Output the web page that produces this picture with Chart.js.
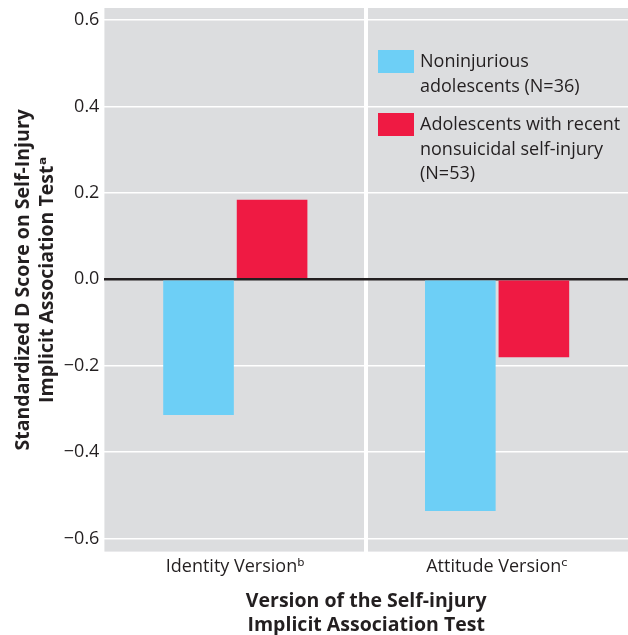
<!DOCTYPE html>
<html>
<head>
<meta charset="utf-8">
<script src="https://cdn.jsdelivr.net/npm/chart.js@4"></script>
<style>
  body { margin: 0; background: #fff; }
</style>
</head>
<body>
<canvas id="myChart" width="628" height="635"></canvas>
<script>
var categories = ['Identity Version\u1D47', 'Attitude Version\u1D9C'];
var seriesNames = [
  ['Noninjurious', 'adolescents (N=36)'],
  ['Adolescents with recent', 'nonsuicidal self-injury', '(N=53)']
];
var noninjurious = [-0.314, -0.536];
var selfInjury = [0.184, -0.180];
var tickValues = [-0.6, -0.4, -0.2, 0.0, 0.2, 0.4, 0.6];
var tickLabels = ['\u22120.6', '\u22120.4', '\u22120.2', '0.0', '0.2', '0.4', '0.6'];
var colors = ['#6dcff6', '#ef1a43'];

var fontFamily = '"Open Sans", "DejaVu Sans", sans-serif';
var textColor = '#231f20';

var panelBackground = {
  id: 'panelBackground',
  beforeDraw: function (chart) {
    var a = chart.chartArea;
    var ctx = chart.ctx;
    ctx.save();
    ctx.fillStyle = '#dcdddf';
    ctx.fillRect(a.left, a.top, a.right - a.left, a.bottom - a.top);
    ctx.restore();
  }
};

var insideLegend = {
  id: 'insideLegend',
  afterDatasetsDraw: function (chart) {
    var a = chart.chartArea;
    var ctx = chart.ctx;
    var left = a.right - 250;
    var top = a.top + 42;
    ctx.save();
    ctx.font = '18px ' + fontFamily;
    ctx.textBaseline = 'middle';
    chart.data.datasets.forEach(function (ds, i) {
      var y = top + i * 63;
      ctx.fillStyle = ds.backgroundColor;
      ctx.fillRect(left, y, 36, 23);
      ctx.fillStyle = textColor;
      ds.label.forEach(function (line, j) {
        ctx.fillText(line, left + 42, y + 12 + j * 24.5);
      });
    });
    ctx.restore();
  }
};

var data = {
  labels: categories,
  datasets: [{
    label: seriesNames[0],
    backgroundColor: colors[0],
    data: noninjurious
  }, {
    label: seriesNames[1],
    backgroundColor: colors[1],
    data: selfInjury
  }]
};

var config = {
  type: 'bar',
  data: data,
  plugins: [panelBackground, insideLegend],
  options: {
    responsive: false,
    animation: false,
    layout: { padding: { top: 0, right: 0, left: 12, bottom: -2 } },
    categoryPercentage: 0.562,
    barPercentage: 0.96,
    plugins: {
      legend: { display: false },
      tooltip: { enabled: false }
    },
    scales: {
      x: {
        z: 1,
        offset: true,
        border: { display: false },
        grid: {
          offset: true,
          drawTicks: false,
          lineWidth: 4,
          color: function (ctx) { return ctx.index === 1 ? '#ffffff' : 'rgba(0,0,0,0)'; }
        },
        ticks: {
          color: textColor,
          padding: 4,
          font: { family: fontFamily, size: 18 }
        },
        title: {
          display: true,
          text: ['Version of the Self-injury', 'Implicit Association Test'],
          color: textColor,
          font: { family: fontFamily, size: 19.5, weight: 'bold', lineHeight: 1.2 },
          padding: { top: 9, bottom: 0 }
        }
      },
      y: {
        min: -0.63,
        max: 0.628,
        border: { display: false },
        afterBuildTicks: function (scale) {
          scale.ticks = tickValues.map(function (v) { return { value: v }; });
        },
        afterFit: function (scale) {
          scale.paddingTop = 8;
          scale.paddingBottom = 0;
        },
        grid: {
          drawTicks: false,
          color: function (ctx) { return ctx.tick && ctx.tick.value === 0 ? '#231f20' : '#ffffff'; },
          lineWidth: function (ctx) { return ctx.tick && ctx.tick.value === 0 ? 2.5 : 1.5; }
        },
        ticks: {
          color: textColor,
          padding: 5,
          font: { family: fontFamily, size: 18 },
          callback: function (value) {
            var i = tickValues.indexOf(value);
            return i >= 0 ? tickLabels[i] : '';
          }
        },
        title: {
          display: true,
          text: ['Standardized D Score on Self-Injury', 'Implicit Association Test\u1D43'],
          color: textColor,
          font: { family: fontFamily, size: 19.5, weight: 'bold', lineHeight: 1.2 },
          padding: { top: 0, bottom: 0 }
        }
      }
    }
  }
};

var myChart = new Chart(document.getElementById('myChart'), config);
</script>
</body>
</html>
